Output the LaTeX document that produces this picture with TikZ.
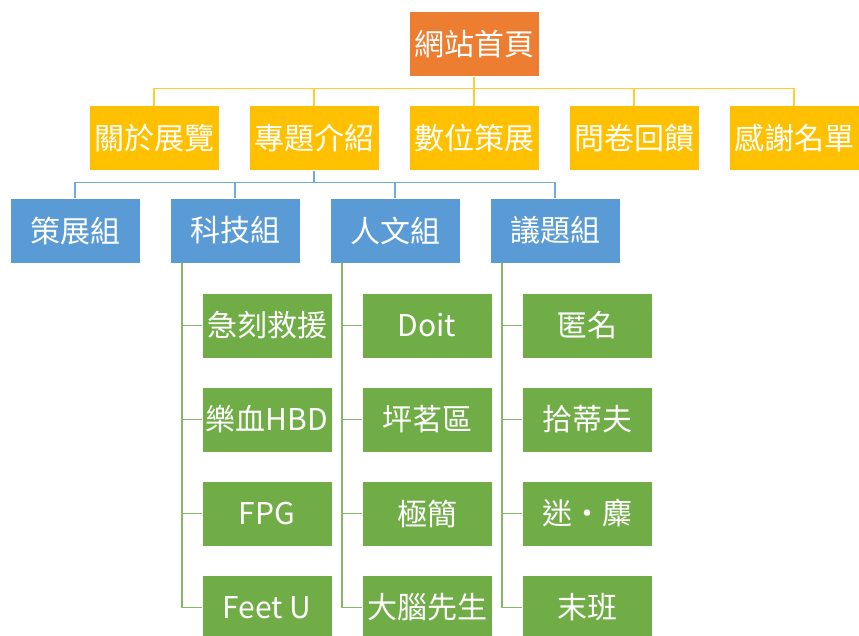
\documentclass[tikz,border=0pt]{standalone}
\usepackage{fontspec}
\setmainfont{Noto Sans CJK TC}
\usetikzlibrary{positioning}
\definecolor{homeorange}{HTML}{ED7D31}
\definecolor{pagegold}{HTML}{FFC000}
\definecolor{groupblue}{HTML}{5B9BD5}
\definecolor{workgreen}{HTML}{70AD47}

\begin{document}
\begin{tikzpicture}[x=1pt,y=-1pt,node distance=29pt and 30pt,
    box/.style={rectangle,draw=white,line width=0.6pt,outer sep=0pt,minimum width=130pt,minimum height=65pt,inner sep=0pt,text=white,font=\fontsize{30}{32}\selectfont},
    home/.style={box,fill=homeorange},
    page/.style={box,fill=pagegold},
    group/.style={box,fill=groupblue},
    work/.style={box,fill=workgreen},
    pageline/.style={draw=pagegold!80,line width=1.6pt},
    groupline/.style={draw=groupblue!85,line width=1.6pt},
    workline/.style={draw=workgreen!85,line width=1.6pt}
]
    \useasboundingbox (0,0) rectangle (859,635);

    \node [home] (home) at (474,44) {網站首頁};
    \node [page,below=of home] (digital) {數位策展};
    \node [page,left=of digital] (topic) {專題介紹};
    \node [page,left=of topic] (about) {關於展覽};
    \node [page,right=of digital] (survey) {問卷回饋};
    \node [page,right=of survey] (thanks) {感謝名單};

    \node [group] (curate) at (75,230.5) {策展組};
    \node [group,right=of curate] (tech) {科技組};
    \node [group,right=of tech] (human) {人文組};
    \node [group,right=of human] (issue) {議題組};

    \node [work] (tech1) at (267,325.5) {急刻救援};
    \node [work,below=of tech1] (tech2) {樂血HBD};
    \node [work,below=of tech2] (tech3) {FPG};
    \node [work,below=of tech3] (tech4) {Feet U};
    \node [work,right=of tech1] (human1) {Doit};
    \node [work,below=of human1] (human2) {坪茗區};
    \node [work,below=of human2] (human3) {極簡};
    \node [work,below=of human3] (human4) {大腦先生};
    \node [work,right=of human1] (issue1) {匿名};
    \node [work,below=of issue1] (issue2) {拾蒂夫};
    \node [work,below=of issue2] (issue3) {迷・麋};
    \node [work,below=of issue3] (issue4) {末班};

    \foreach \p in {about,topic,digital,survey,thanks}
        \draw [pageline] (home.south) -- ++(0,12) -| (\p.north);
    \foreach \g in {curate,tech,human,issue}
        \draw [groupline] (topic.south) -- ++(0,12) -| (\g.north);
    \foreach \g in {tech,human,issue}
        \foreach \i in {1,2,3,4}
            \draw [workline] ([xshift=12pt]\g.south west) |- (\g\i.west);

\end{tikzpicture}
\end{document}
